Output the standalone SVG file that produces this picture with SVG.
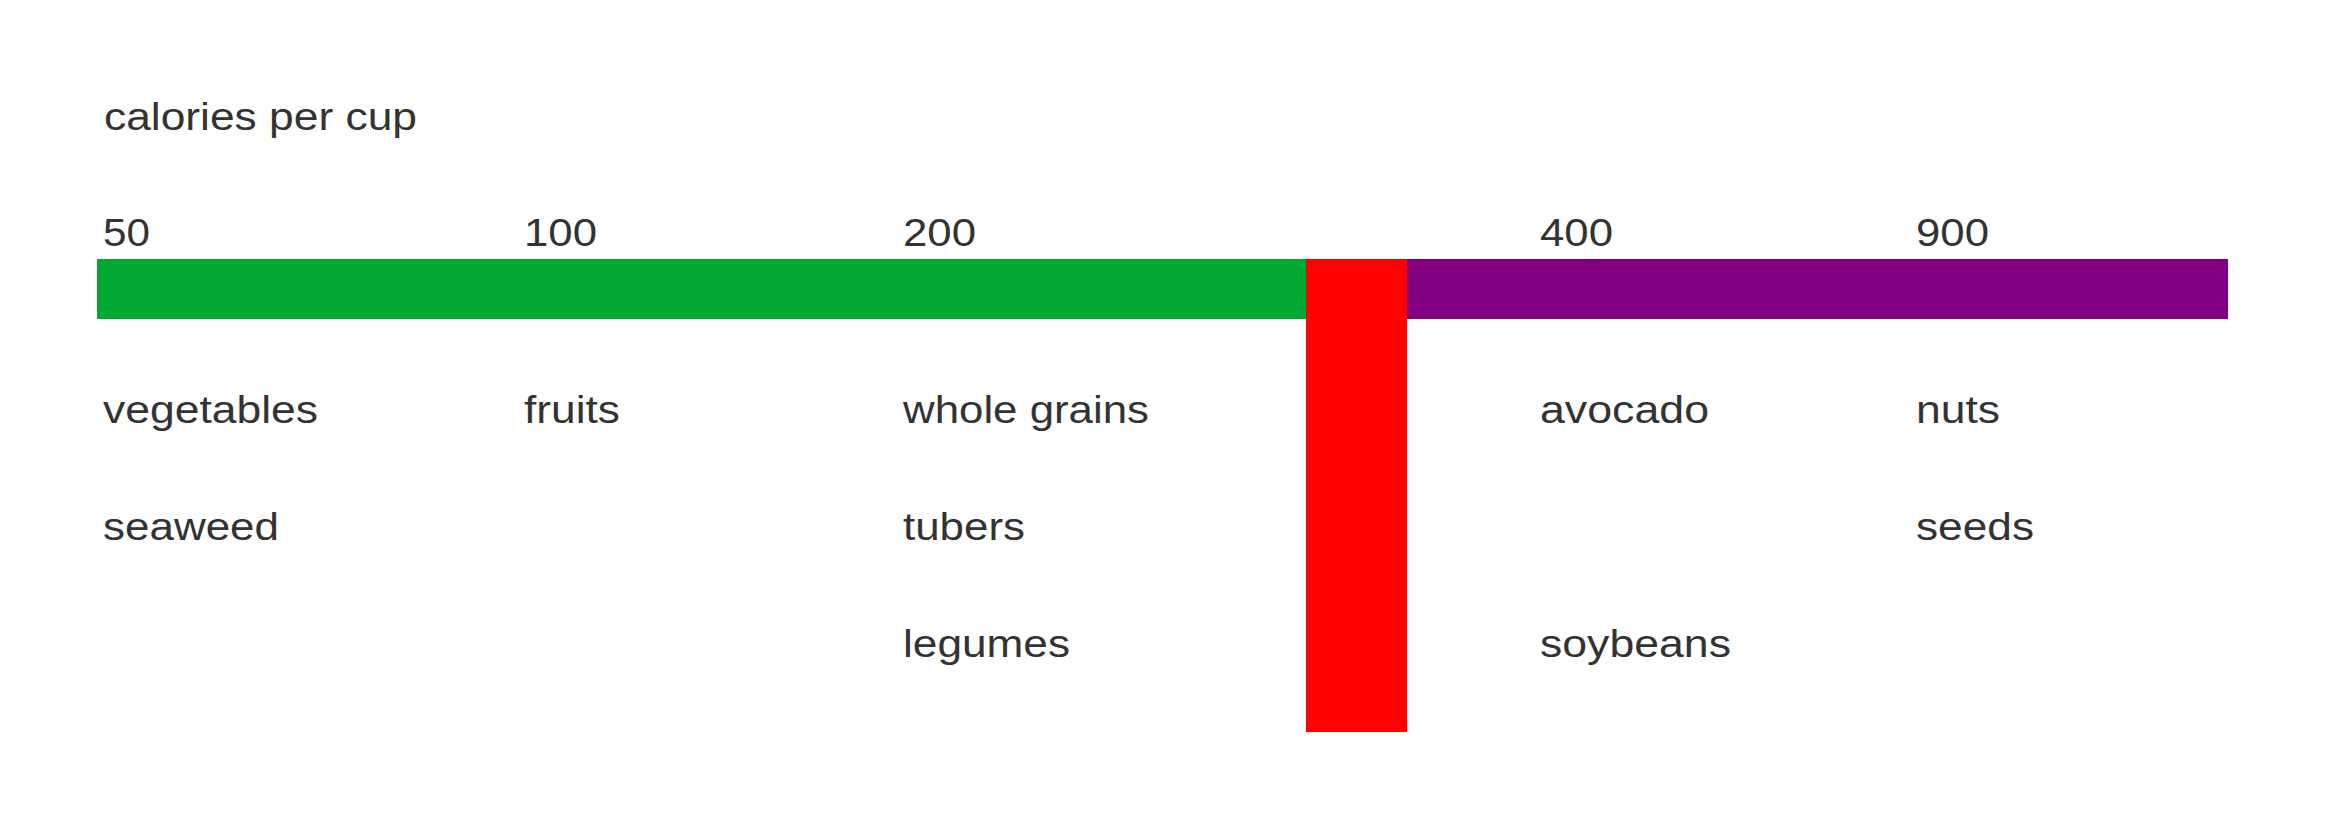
<svg xmlns="http://www.w3.org/2000/svg" width="2340" height="837" viewBox="0 0 2340 837">
<style>
text{font-family:"Liberation Sans",Arial,sans-serif;font-size:38px;fill:#333333}
</style>
<rect x="0" y="0" width="2340" height="837" fill="#ffffff"/>
<g id="title"><text x="104" y="130" textLength="313" lengthAdjust="spacingAndGlyphs">calories per cup</text></g>
<g id="bar-green"><rect x="97" y="259" width="1209" height="60" fill="#00a933"/></g>
<g id="bar-purple"><rect x="1407" y="259" width="821" height="60" fill="#800080"/></g>
<g id="bar-red"><rect x="1306" y="259" width="101" height="473" fill="#ff0000"/></g>
<g id="scale">
<text x="103" y="246" textLength="47" lengthAdjust="spacingAndGlyphs">50</text>
<text x="524" y="246" textLength="73" lengthAdjust="spacingAndGlyphs">100</text>
<text x="903" y="246" textLength="73" lengthAdjust="spacingAndGlyphs">200</text>
<text x="1540" y="246" textLength="73" lengthAdjust="spacingAndGlyphs">400</text>
<text x="1916" y="246" textLength="73" lengthAdjust="spacingAndGlyphs">900</text>
</g>
<g id="col-50">
<text x="103" y="423" textLength="215" lengthAdjust="spacingAndGlyphs">vegetables</text>
<text x="103" y="540" textLength="176" lengthAdjust="spacingAndGlyphs">seaweed</text>
</g>
<g id="col-100">
<text x="524" y="423" textLength="96" lengthAdjust="spacingAndGlyphs">fruits</text>
</g>
<g id="col-200">
<text x="903" y="423" textLength="246" lengthAdjust="spacingAndGlyphs">whole grains</text>
<text x="903" y="540" textLength="122" lengthAdjust="spacingAndGlyphs">tubers</text>
<text x="903" y="657" textLength="167" lengthAdjust="spacingAndGlyphs">legumes</text>
</g>
<g id="col-400">
<text x="1540" y="423" textLength="169" lengthAdjust="spacingAndGlyphs">avocado</text>
<text x="1540" y="657" textLength="191" lengthAdjust="spacingAndGlyphs">soybeans</text>
</g>
<g id="col-900">
<text x="1916" y="423" textLength="84" lengthAdjust="spacingAndGlyphs">nuts</text>
<text x="1916" y="540" textLength="118" lengthAdjust="spacingAndGlyphs">seeds</text>
</g>
<g id="connectors"/>
</svg>
